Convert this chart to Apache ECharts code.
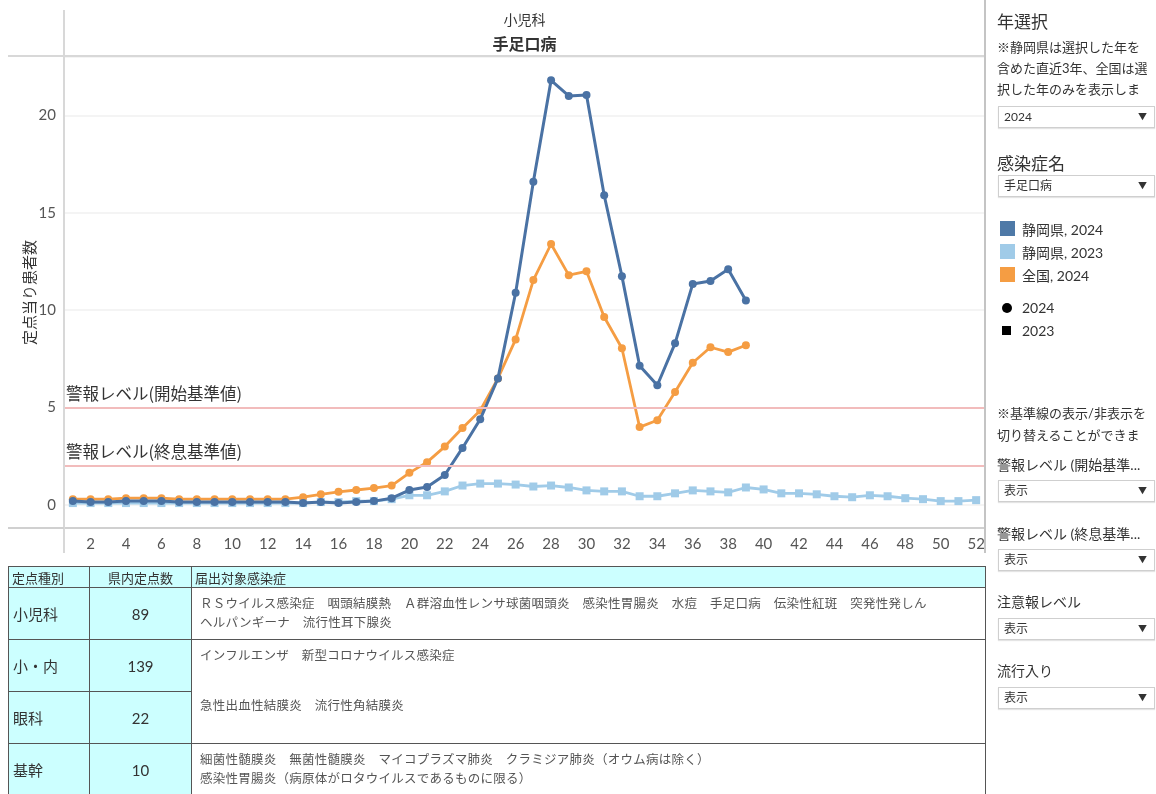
<!DOCTYPE html>
<html><head><meta charset="utf-8">
<script src="https://cdn.jsdelivr.net/npm/echarts/dist/echarts.min.js"></script>
<style>
body{margin:0;width:1156px;height:794px;overflow:hidden;background:#fff;font-family:Lato,'Noto Sans CJK JP',sans-serif;color:#333;position:relative;}
#chart{position:absolute;left:0;top:0;width:1156px;height:794px;}
.abs{position:absolute;}
.ln{position:absolute;background:#cfcfcf;}
.t{position:absolute;white-space:nowrap;}
.dd{position:absolute;left:998px;width:155px;height:20px;border:1px solid #cfcfcf;box-shadow:0 1px 1px #e4e4e4;font-size:12px;line-height:20px;background:#fff;}
.dd span{position:absolute;left:5px;}
.dd i{position:absolute;right:7px;top:0;font-style:normal;font-size:9px;}
.clip{position:absolute;left:997px;width:159px;overflow:hidden;white-space:nowrap;font-size:13px;}
table{position:absolute;left:8px;top:566px;border-collapse:collapse;width:978px;}
td{border:1.5px solid #555;padding:0;font-size:15px;color:#333;}
td.h{background:#ccffff;height:20px;font-size:13px;padding-left:3px;}
td.c{background:#ccffff;}
td.d{font-size:12.5px;color:#555;vertical-align:top;padding:6px 8px 0 8px;line-height:19px;letter-spacing:0.25px;}
</style></head>
<body>
<div id="chart"></div>
<div class="ln" style="left:8px;top:55px;width:977px;height:2px;background:#d8d8d8"></div>
<div class="ln" style="left:63px;top:10px;width:2px;height:543px;background:#d8d8d8"></div>
<div class="ln" style="left:984px;top:0px;width:2px;height:553px;background:#c4c4c4"></div>
<div class="ln" style="left:8px;top:527px;width:56px;height:2px;background:#d0d0d0"></div>
<div class="t" style="left:64px;width:921px;text-align:center;top:9px;font-size:14px;">小児科</div>
<div class="t" style="left:64px;width:921px;text-align:center;top:31px;font-size:16px;font-weight:bold;">手足口病</div>

<div class="t" style="left:997px;top:8px;font-size:17px;">年選択</div>
<div class="clip" style="top:37px;">※静岡県は選択した年を</div>
<div class="clip" style="top:58px;">含めた直近3年、全国は選</div>
<div class="clip" style="top:79px;">択した年のみを表示しま</div>
<div class="dd" style="top:106px;"><span>2024</span><i>▼</i></div>
<div class="t" style="left:997px;top:150px;font-size:17px;">感染症名</div>
<div class="dd" style="top:175px;"><span>手足口病</span><i>▼</i></div>
<div class="abs" style="left:1000px;top:221px;width:15px;height:15px;background:#4e79a7"></div>
<div class="t" style="left:1022px;top:219px;font-size:14px;">静岡県, 2024</div>
<div class="abs" style="left:1000px;top:244px;width:15px;height:15px;background:#a0cbe8"></div>
<div class="t" style="left:1022px;top:242px;font-size:14px;">静岡県, 2023</div>
<div class="abs" style="left:1000px;top:267px;width:15px;height:15px;background:#f59d43"></div>
<div class="t" style="left:1022px;top:265px;font-size:14px;">全国, 2024</div>
<div class="abs" style="left:1002px;top:303px;width:10px;height:10px;border-radius:5px;background:#000"></div>
<div class="t" style="left:1022px;top:299px;font-size:14px;">2024</div>
<div class="abs" style="left:1002px;top:326px;width:9px;height:9px;background:#000"></div>
<div class="t" style="left:1022px;top:322px;font-size:14px;">2023</div>

<div class="clip" style="top:403px;">※基準線の表示/非表示を</div>
<div class="clip" style="top:425px;">切り替えることができま</div>
<div class="t" style="left:997px;top:454px;font-size:14px;">警報レベル (開始基準...</div>
<div class="dd" style="top:480px;"><span>表示</span><i>▼</i></div>
<div class="t" style="left:997px;top:523px;font-size:14px;">警報レベル (終息基準...</div>
<div class="dd" style="top:549px;"><span>表示</span><i>▼</i></div>
<div class="t" style="left:997px;top:591px;font-size:14px;">注意報レベル</div>
<div class="dd" style="top:618px;"><span>表示</span><i>▼</i></div>
<div class="t" style="left:997px;top:660px;font-size:14px;">流行入り</div>
<div class="dd" style="top:687px;"><span>表示</span><i>▼</i></div>

<table>
<tr><td class="h" style="width:77px">定点種別</td><td class="h" style="width:101px;text-align:center;padding-left:0">県内定点数</td><td class="h">届出対象感染症</td></tr>
<tr style="height:52px"><td class="c" style="padding-left:4px">小児科</td><td class="c" style="text-align:center">89</td><td class="d">ＲＳウイルス感染症　咽頭結膜熱　Ａ群溶血性レンサ球菌咽頭炎　感染性胃腸炎　水痘　手足口病　伝染性紅斑　突発性発しん<br>ヘルパンギーナ　流行性耳下腺炎</td></tr>
<tr style="height:52px"><td class="c" style="padding-left:4px">小・内</td><td class="c" style="text-align:center">139</td><td class="d" style="border-bottom:none">インフルエンザ　新型コロナウイルス感染症</td></tr>
<tr style="height:52px"><td class="c" style="padding-left:4px">眼科</td><td class="c" style="text-align:center">22</td><td class="d" style="border-top:none;padding-top:4px">急性出血性結膜炎　流行性角結膜炎</td></tr>
<tr style="height:52px"><td class="c" style="padding-left:4px">基幹</td><td class="c" style="text-align:center">10</td><td class="d">細菌性髄膜炎　無菌性髄膜炎　マイコプラズマ肺炎　クラミジア肺炎（オウム病は除く）<br>感染性胃腸炎（病原体がロタウイルスであるものに限る）</td></tr>
</table>

<script>
const weeks = [];
for (let w = 1; w <= 52; w++) weeks.push(String(w));

const shizuoka2024 = [0.2,0.15,0.15,0.2,0.2,0.2,0.15,0.15,0.15,0.15,0.15,0.15,0.15,0.1,0.15,0.1,0.15,0.2,0.35,
  0.77,0.92,1.54,2.93,4.4,6.5,10.9,16.6,21.8,21.0,21.05,15.9,11.75,7.15,6.15,8.3,11.35,11.5,12.1,10.5];
const national2024 = [0.3,0.3,0.3,0.35,0.35,0.35,0.3,0.3,0.3,0.3,0.3,0.3,0.3,0.4,0.55,0.68,0.77,0.87,1.0,
  1.65,2.2,3.0,3.95,4.85,6.5,8.5,11.55,13.4,11.8,12.0,9.65,8.05,4.0,4.35,5.8,7.3,8.1,7.85,8.2];
const shizuoka2023 = [0.1,0.1,0.1,0.1,0.1,0.1,0.1,0.1,0.1,0.1,0.1,0.1,0.1,0.1,0.15,0.15,0.2,0.2,0.3,
  0.5,0.5,0.7,1.0,1.1,1.1,1.05,0.95,1.0,0.9,0.75,0.7,0.7,0.45,0.45,0.6,0.75,0.7,0.65,0.9,0.8,0.6,0.6,0.55,0.45,0.4,0.5,0.45,0.35,0.3,0.2,0.2,0.25];

const alarmStart = 5;
const alarmEnd = 2;
const alarmStartLabel = '警報レベル(開始基準値)';
const alarmEndLabel = '警報レベル(終息基準値)';

const chart = echarts.init(document.getElementById('chart'), null, {renderer:'canvas'});
const font = "Lato, 'Noto Sans CJK JP', sans-serif";
chart.setOption({
  animation:false,
  backgroundColor:'#fff',
  grid:{left:64, right:171, top:57, bottom:266, containLabel:false},
  xAxis:{
    type:'category', data:weeks, boundaryGap:true,
    axisLine:{onZero:false, lineStyle:{color:'#d0d0d0', width:2}},
    axisTick:{show:false},
    axisLabel:{color:'#555', fontSize:15, fontFamily:font, margin:9,
      interval:function(i){return i % 2 === 1;}},
    splitLine:{show:false}
  },
  yAxis:{
    type:'value', min:-1.18, max:23, splitNumber:5,
    name:'定点当り患者数', nameLocation:'middle', nameGap:27, nameMoveOverlap:false,
    nameTextStyle:{color:'#333', fontSize:15, fontFamily:"'Noto Sans CJK JP'"},
    axisLine:{show:false}, axisTick:{show:false},
    axisLabel:{color:'#555', fontSize:15, fontFamily:font, margin:8,
      formatter:function(v){return (Math.abs(v % 5) < 1e-9) ? String(v) : '';}},
    splitLine:{lineStyle:{color:'#f0f0f0', width:1.5}}
  },
  series:[
    {name:'静岡県, 2023', type:'line', data:shizuoka2023, symbol:'rect', symbolSize:8,
      lineStyle:{color:'#a0cbe8', width:2.8}, itemStyle:{color:'#a0cbe8'}, z:2,
      markLine:{silent:true, symbol:'none',
        lineStyle:{color:'#f2bcbc', width:2, type:'solid'},
        label:{position:'insideStartTop', color:'#333', fontSize:16.5, fontFamily:"'Noto Sans CJK JP'", distance:[2,6],
          formatter:function(p){return p.name;}},
        data:[{name:alarmStartLabel, yAxis:alarmStart},{name:alarmEndLabel, yAxis:alarmEnd}]}},
    {name:'全国, 2024', type:'line', data:national2024, symbol:'circle', symbolSize:8,
      lineStyle:{color:'#f59d43', width:2.8}, itemStyle:{color:'#f59d43'}, z:3},
    {name:'静岡県, 2024', type:'line', data:shizuoka2024, symbol:'circle', symbolSize:8,
      lineStyle:{color:'#4a72a4', width:3}, itemStyle:{color:'#4a72a4'}, z:4}
  ]
});
</script>
</body></html>
